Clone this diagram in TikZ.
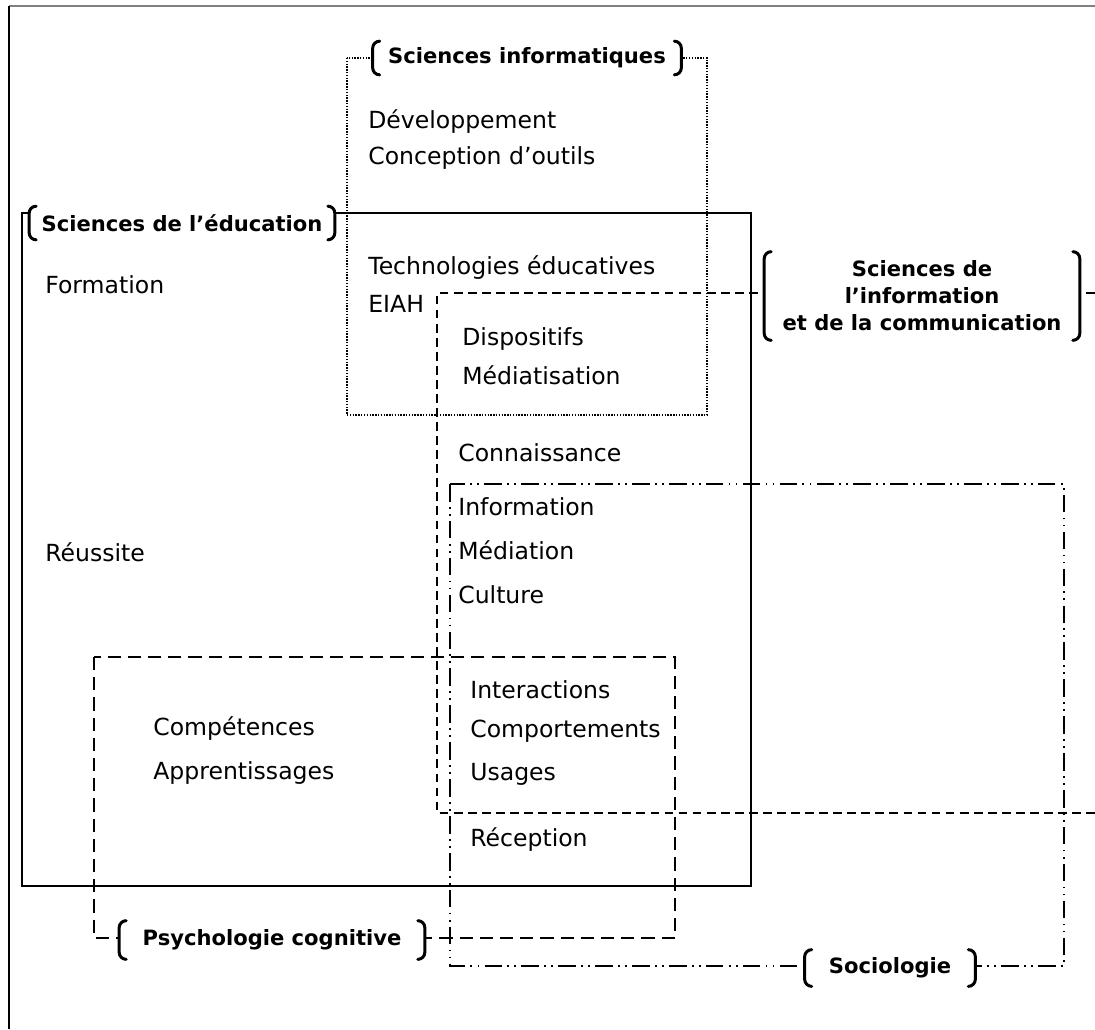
\documentclass[tikz,border=0pt]{standalone}
\usepackage{fontspec}
\setmainfont{DejaVu Sans}
\usetikzlibrary{positioning}
\tikzset{
    terme/.style={
        anchor=west,
        inner sep=0pt,
        font=\fontsize{13.4}{16}\selectfont
    },
    discipline/.style={
        fill=white,
        align=center,
        inner sep=0pt,
        font=\fontsize{12}{15.3}\selectfont\bfseries
    },
    crochet/.style={
        line width=1.7pt,
        line cap=round
    },
    sciedu/.style={line width=0.9pt},
    sciinfo/.style={line width=0.8pt, dash pattern=on 0.8pt off 0.8pt},
    sic/.style={line width=0.7pt, dash pattern=on 5pt off 3pt},
    psycho/.style={line width=0.7pt, dash pattern=on 7.5pt off 4pt},
    socio/.style={line width=0.7pt, dash pattern=on 10pt off 3pt on 1pt off 3pt on 1pt off 3pt}
}
% brackets round a discipline label
\newcommand{\crochets}[1]{%
  \draw[crochet] ([xshift=4pt]#1.north west) to[out=180,in=90] ([yshift=-4pt]#1.north west)
    -- ([yshift=4pt]#1.south west) to[out=-90,in=180] ([xshift=4pt]#1.south west);
  \draw[crochet] ([xshift=-4pt]#1.north east) to[out=0,in=90] ([yshift=-4pt]#1.north east)
    -- ([yshift=4pt]#1.south east) to[out=-90,in=0] ([xshift=-4pt]#1.south east);
}

\begin{document}
\begin{tikzpicture}[x=0.02cm, y=-0.02cm]
  \useasboundingbox (0,0) rectangle (1095,1029);

  % page frame
  \draw[gray, line width=1.6pt] (9,6) -- (1095,6);
  \draw[line width=0.8pt] (9,6) -- (9,1029);

  % Fields
  \draw[sciinfo] (347,58) rectangle (707,415);
  \draw[sciedu] (22,213) rectangle (751,886);
  \draw[sic] (1095,293) -- (437,293) -- (437,813) -- (1095,813);
  \draw[socio] (450,484) rectangle (1064,966);
  \draw[psycho] (94,657) rectangle (675,938);

  % Terms
  \node[terme] (dev) at (368,122) {Développement};
  \node[terme] (outils) at (368,158) {Conception d’outils};
  \node[terme] (techno) at (368,268) {Technologies éducatives};
  \node[terme] (eiah) at (368,304) {EIAH};
  \node[terme] (formation) at (45,285) {Formation};
  \node[terme] (dispositifs) at (462,339) {Dispositifs};
  \node[terme] (mediatisation) at (462,375) {Médiatisation};
  \node[terme] (connaissance) at (458,453) {Connaissance};
  \node[terme] (information) at (458,507) {Information};
  \node[terme] (mediation) at (458,550) {Médiation};
  \node[terme] (culture) at (458,595) {Culture};
  \node[terme] (reussite) at (45,552) {Réussite};
  \node[terme] (interactions) at (470,690) {Interactions};
  \node[terme] (comportements) at (470,731) {Comportements};
  \node[terme] (usages) at (470,774) {Usages};
  \node[terme] (competences) at (153,729) {Compétences};
  \node[terme] (apprentissages) at (153,773) {Apprentissages};
  \node[terme] (reception) at (470,840) {Réception};

  % Discipline labels
  \node[discipline, minimum width=6.16cm, minimum height=0.66cm] (info) at (527,58) {Sciences informatiques};
  \node[discipline, minimum width=6.1cm, minimum height=0.66cm] (educ) at (182,223) {Sciences de l’éducation};
  \node[discipline, minimum width=6.3cm, minimum height=1.76cm] (infocom) at (922,296) {Sciences de\\l’information\\et de la communication};
  \node[discipline, minimum width=3.4cm, minimum height=0.72cm] (socio) at (890,968) {Sociologie};
  \node[discipline, minimum width=6.1cm, minimum height=0.76cm] (psycho) at (272,940) {Psychologie cognitive};
  \crochets{info}
  \crochets{educ}
  \crochets{infocom}
  \crochets{socio}
  \crochets{psycho}
\end{tikzpicture}
\end{document}
